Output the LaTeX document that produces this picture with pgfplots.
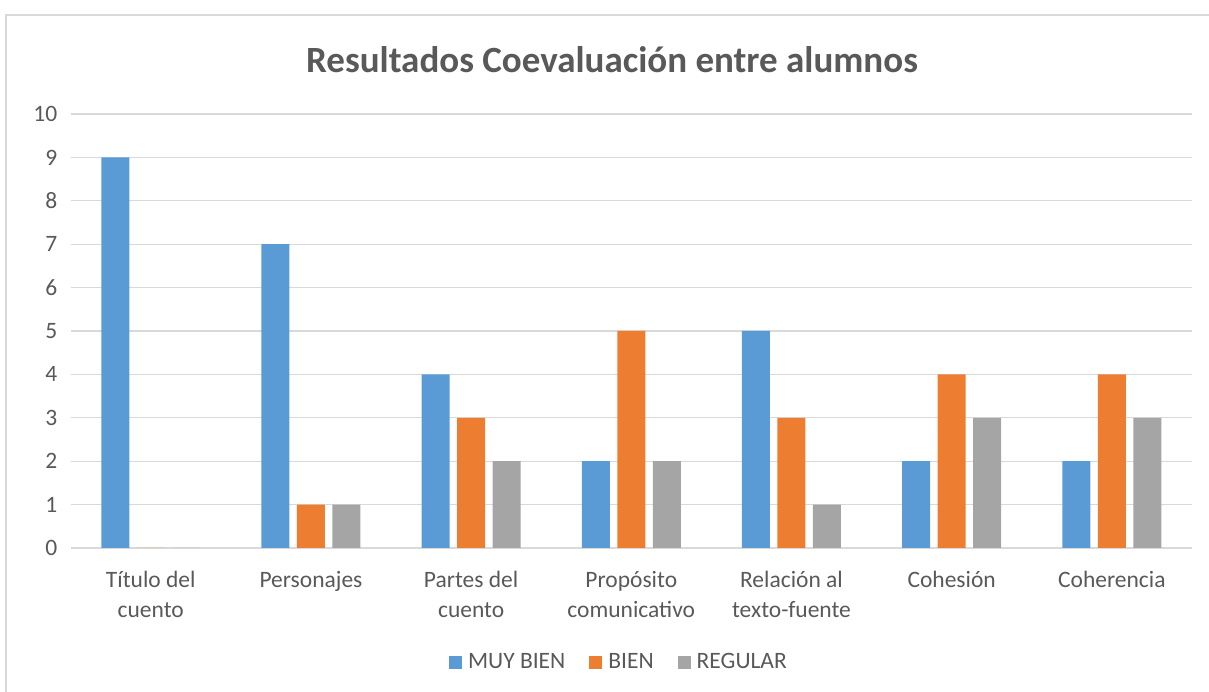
\documentclass[border=0pt]{standalone}
\usepackage{pgfplots}
\pgfplotsset{compat=1.18}
\usepackage{fontspec}
\setmainfont{Carlito}
\definecolor{cblue}{HTML}{5B9BD5}
\definecolor{corange}{HTML}{ED7D31}
\definecolor{cgray}{HTML}{A5A5A5}
\definecolor{txt}{HTML}{595959}
\definecolor{gridc}{HTML}{D9D9D9}
\begin{document}
\begin{tikzpicture}
\useasboundingbox (0,0) rectangle (1209pt,692pt);
% chart frame (right and bottom edges fall outside the picture)
\draw[gridc, line width=1.2pt] (6pt,-5pt) -- (6pt,677pt) -- (1215pt,677pt);
\node[text=txt, font=\fontsize{37}{44}\bfseries\selectfont] at (612pt,632pt) {Resultados Coevaluación entre alumnos};
\begin{axis}[at={(70.7pt,144pt)}, anchor=south west, scale only axis,
  width=1121.3pt, height=434pt,
  ybar, bar width=28pt,
  xmin=-0.5, xmax=6.5, ymin=0, ymax=10,
  xtick={0,...,6}, ytick={0,...,10},
  xticklabels={{Título del\\cuento},{Personajes},{Partes del\\cuento},{Propósito\\comunicativo},{Relación al\\texto-fuente},{Cohesión},{Coherencia}},
  x tick label style={align=center, font=\fontsize{23.5}{30}\selectfont, text=txt, yshift=-20pt, anchor=north},
  y tick label style={font=\fontsize{23.5}{30}\selectfont, text=txt, xshift=-10pt},
  /pgf/number format/assume math mode=true,
  major tick length=0pt,
  axis y line*=left, y axis line style={draw=none},
  axis x line*=bottom, x axis line style={gridc, line width=1.3pt},
  ymajorgrids, grid style={gridc, line width=1.3pt},
  legend style={at={(0.489,-0.2627)}, anchor=center, draw=none, legend columns=3,
    font=\fontsize{23.5}{30}\selectfont, text=txt,
    /tikz/every even column/.append style={column sep=22pt}},
  legend image code/.code={\fill[#1] (0pt,-6.5pt) rectangle (13pt,6.5pt); \path (17pt,0pt);},
]
\addplot[fill=cblue, draw=none, bar shift=-35.5pt] coordinates {(0,9)(1,7)(2,4)(3,2)(4,5)(5,2)(6,2)};
\addplot[fill=corange, draw=none, bar shift=0pt] coordinates {(0,0)(1,1)(2,3)(3,5)(4,3)(5,4)(6,4)};
\addplot[fill=cgray, draw=none, bar shift=35.5pt] coordinates {(0,0)(1,1)(2,2)(3,2)(4,1)(5,3)(6,3)};
\legend{MUY BIEN, BIEN, REGULAR}
\end{axis}
\end{tikzpicture}
\end{document}
